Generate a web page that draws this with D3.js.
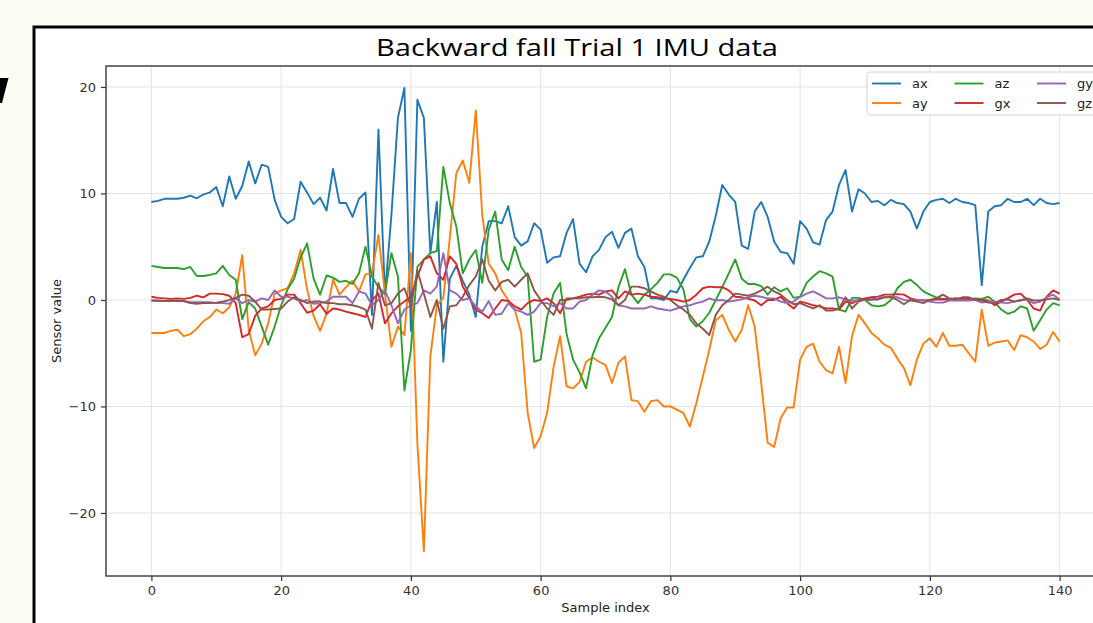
<!DOCTYPE html>
<html>
<head>
<meta charset="utf-8">
<script src="https://cdn.jsdelivr.net/npm/d3@7/dist/d3.min.js"></script>
<style>
  html, body { margin: 0; padding: 0; background: #fdfdf4; overflow: hidden; }
  svg { display: block; }
</style>
</head>
<body>
<div class="ChartSection"></div>
<script>
// sample values, index 0..140
const ax = [9.2,9.3,9.5,9.5,9.5,9.6,9.8,9.55,9.9,10.1,10.6,8.8,11.6,9.5,10.7,13.0,10.95,12.7,12.5,9.4,
  7.8,7.2,7.6,11.1,10.1,9.0,9.6,8.4,12.3,9.1,9.1,7.8,9.5,10.1,-1.4,16.0,0.5,8.0,17.1,19.9,
  -2.9,18.8,17.1,4.4,9.2,-5.8,2.0,3.2,1.8,0.5,-1.6,5.0,7.4,7.4,7.2,8.8,5.9,5.1,5.5,7.2,
  6.6,3.5,4.0,4.1,6.3,7.6,3.4,2.6,4.1,4.7,5.9,6.4,4.9,6.3,6.7,4.1,3.1,0.15,0.15,0.0,
  0.85,0.7,1.9,3.0,4.0,4.1,5.5,7.9,10.8,9.9,9.2,5.1,4.8,8.3,9.2,7.8,5.5,4.5,4.4,3.4,
  7.4,6.7,5.4,5.2,7.5,8.3,10.8,12.2,8.3,10.4,10.0,9.2,9.3,8.9,9.4,9.1,9.0,8.3,6.7,8.3,
  9.2,9.4,9.5,9.1,9.5,9.2,9.1,8.9,1.4,8.3,8.8,8.9,9.5,9.2,9.2,9.5,8.9,9.5,9.1,9.0,9.1];
const ay = [-3.1,-3.1,-3.1,-2.9,-2.8,-3.4,-3.2,-2.7,-2.0,-1.6,-0.9,-1.25,-0.7,0.6,4.2,-2.8,-5.2,-4.1,-2.2,0.6,
  0.9,1.1,2.5,4.7,1.0,-1.5,-2.9,-1.3,1.9,0.5,1.2,1.8,0.8,2.4,2.5,6.1,0.6,-4.4,-2.5,-3.3,
  4.4,-13.5,-23.6,-5.3,-0.5,0.2,5.8,11.9,13.1,11.0,17.8,8.0,3.4,2.5,0.9,0.0,-0.9,-3.1,-10.6,-13.9,
  -12.8,-10.6,-6.3,-3.4,-8.1,-8.3,-7.7,-5.8,-5.4,-5.8,-6.1,-7.8,-5.9,-5.3,-9.4,-9.5,-10.5,-9.5,-9.4,-10.0,
  -10.0,-10.3,-10.6,-11.9,-9.7,-7.2,-4.7,-1.9,-1.4,-2.8,-3.9,-2.8,-0.5,-2.5,-7.8,-13.4,-13.8,-11.1,-10.1,-10.1,
  -5.6,-4.4,-4.1,-5.8,-6.6,-6.9,-4.4,-7.8,-3.4,-1.4,-2.2,-3.1,-3.6,-4.2,-4.5,-5.5,-6.4,-8.0,-5.6,-4.1,
  -3.6,-4.4,-3.1,-4.3,-4.3,-4.2,-5.0,-5.8,-0.9,-4.3,-4.0,-3.9,-3.8,-4.7,-3.3,-3.5,-3.9,-4.6,-4.2,-3.0,-3.9];
const az = [3.2,3.1,3.0,3.0,3.0,2.9,3.1,2.25,2.25,2.35,2.5,3.2,2.35,1.9,-1.8,-0.2,-0.8,-2.5,-4.2,-2.5,
  -0.5,1.0,2.0,4.0,5.3,2.0,0.5,2.3,2.1,1.7,1.8,1.5,2.5,5.0,2.2,1.2,0.6,4.4,2.2,-8.5,
  -4.7,3.1,3.8,4.4,4.6,12.5,9.1,6.9,2.5,3.8,4.7,1.6,6.6,8.3,3.8,2.8,5.0,3.1,2.2,-5.8,
  -5.6,-1.6,0.6,1.6,-3.2,-5.6,-6.8,-8.3,-5.2,-3.6,-2.6,-1.6,1.2,2.9,0.5,-0.3,0.5,1.0,1.6,2.4,
  2.4,2.1,1.0,-1.8,-2.5,-2.0,-1.2,0.0,1.2,2.5,3.8,2.0,1.5,1.5,1.3,0.5,1.2,0.8,1.1,0.2,
  0.3,1.6,2.2,2.7,2.5,2.2,-0.9,-1.1,0.2,0.2,0.0,-0.5,-0.6,-0.5,0.0,1.1,1.7,1.9,1.4,0.8,
  0.5,0.25,0.1,0.1,0.15,0.1,0.1,0.15,0.1,0.3,-0.2,-0.9,-1.3,-1.1,-0.6,-0.8,-2.9,-1.9,-0.9,-0.3,-0.5];
const gx = [0.3,0.2,0.15,0.1,0.15,0.1,0.2,0.4,0.25,0.6,0.6,0.55,0.4,-0.3,-3.5,-3.2,-1.5,-0.8,-0.6,0.0,
  0.1,0.5,0.5,-0.3,-1.2,-1.0,-0.4,-1.3,-0.8,-0.9,-1.1,-1.25,-1.4,-1.6,0.0,0.6,-2.2,-1.25,-0.6,-0.15,
  0.3,2.2,3.8,4.1,2.5,1.9,4.1,3.4,1.25,0.15,-0.9,-1.25,-1.7,-0.8,0.0,-0.1,-0.6,-0.9,-0.3,0.0,
  -0.1,0.15,-0.3,-1.25,0.15,0.15,0.3,0.5,0.6,0.5,0.8,0.9,0.15,0.8,0.5,0.6,0.5,0.3,0.25,0.15,
  0.1,0.0,-0.15,0.0,0.5,1.1,1.25,1.2,1.2,0.9,0.3,0.25,0.1,-0.05,-0.5,0.0,0.0,0.3,-0.3,-0.8,
  -0.15,-0.3,-0.5,-0.6,-0.8,-0.8,-0.9,-0.15,-0.3,0.0,0.15,0.25,0.3,0.5,0.5,0.55,0.5,0.15,0.0,-0.05,
  0.0,0.05,0.05,0.05,0.15,0.05,0.1,0.05,0.0,-0.05,-0.5,-0.15,0.15,0.5,0.6,0.0,-0.8,-1.0,0.3,0.9,0.6];
const gy = [-0.05,-0.1,-0.1,-0.1,-0.05,-0.1,-0.2,-0.2,-0.2,-0.2,-0.3,-0.3,-0.35,0.15,-0.3,0.0,-0.15,0.15,0.0,0.9,
  0.3,0.3,0.15,-0.15,0.0,-0.35,-0.3,-0.15,0.3,0.3,0.3,-0.3,0.8,0.6,-0.5,0.0,0.9,-0.5,-2.2,-0.9,
  -0.5,-0.3,0.9,0.6,1.25,4.4,0.9,0.6,0.0,0.15,-0.6,-1.1,-0.1,-1.4,-1.3,-0.3,-0.9,-1.1,-1.4,-1.1,
  -0.3,-0.3,-0.6,-0.3,-0.8,-0.8,-0.15,0.0,0.5,0.9,0.8,0.3,-0.5,-0.6,-0.8,-0.8,-0.8,-0.6,-0.8,-0.9,
  -1.0,-0.8,-0.6,-0.5,-0.3,-0.15,0.15,-0.05,0.0,-0.15,-0.05,0.05,0.25,0.4,0.3,0.15,0.15,-0.15,-0.3,-0.15,
  0.3,0.6,0.8,0.5,0.15,0.15,0.25,0.05,-0.05,-0.05,0.0,0.05,0.25,0.25,0.3,0.25,0.0,-0.05,-0.05,0.0,
  -0.15,-0.25,-0.25,-0.05,-0.05,-0.05,-0.05,0.0,-0.25,-0.15,-0.15,-0.25,-0.3,-0.15,0.0,0.05,-0.3,-0.15,0.25,0.5,0.05];
const gz = [-0.05,-0.05,-0.1,-0.05,-0.1,-0.1,-0.3,-0.35,-0.3,-0.3,-0.25,-0.15,0.0,0.2,0.5,0.4,-0.15,-0.9,-0.9,-0.85,
  -0.8,-0.15,0.25,0.0,-0.3,-0.15,-0.15,-0.3,-0.3,-0.4,-0.4,-0.5,-0.65,-0.9,-2.7,1.6,-0.5,-0.3,0.6,1.1,
  -0.6,2.8,0.6,-1.6,0.0,-2.7,-0.6,-0.5,0.3,1.4,2.2,3.8,1.8,0.9,1.7,1.9,1.25,1.9,2.5,0.9,
  0.0,-0.8,-1.4,0.0,0.0,0.15,0.15,0.25,0.25,0.3,0.25,0.05,-0.5,0.0,1.25,1.25,1.1,0.8,0.5,0.3,
  0.0,-0.5,-0.9,-1.4,-2.2,-2.7,-3.3,-1.4,-0.5,0.0,0.6,0.5,0.4,0.6,0.9,1.25,0.8,0.5,0.0,-0.4,
  -0.3,-0.55,-0.8,-0.5,-1.0,-1.0,-0.8,0.25,-0.8,-0.15,0.05,0.05,0.05,0.25,0.25,0.0,-0.4,0.0,-0.15,-0.3,
  0.0,0.15,0.5,0.15,0.05,0.25,0.25,0.0,-0.05,-0.25,-0.3,0.0,0.05,-0.15,-0.05,0.15,-0.05,-0.05,0.05,0.15,0.0];

const seriesNames = ["ax", "ay", "az", "gx", "gy", "gz"];
const seriesValues = [ax, ay, az, gx, gy, gz];
const seriesColors = ["#1f77b4", "#ff7f0e", "#2ca02c", "#d62728", "#9467bd", "#8c564b"];
const xTicks = [0, 20, 40, 60, 80, 100, 120, 140];
const yTicks = [-20, -10, 0, 10, 20];

function drawChart() {
  const W = 1093, H = 623;
  const svg = d3.select(".ChartSection")
    .append("svg")
    .attr("width", W)
    .attr("height", H);

  // slide bits round the picture
  svg.append("polygon")
    .attr("points", "0,78 8.5,78 2,103 0,103")
    .attr("fill", "#000");

  svg.append("rect")
    .attr("x", 34)
    .attr("y", 27)
    .attr("width", W)
    .attr("height", H)
    .attr("fill", "#fff")
    .attr("stroke", "#000")
    .attr("stroke-width", 3);

  svg.append("text")
    .attr("x", 577)
    .attr("y", 56)
    .attr("text-anchor", "middle")
    .attr("font-family", "'Open Sans', Lato, sans-serif")
    .attr("font-size", "23px")
    .attr("textLength", 402)
    .attr("lengthAdjust", "spacingAndGlyphs")
    .attr("fill", "#000")
    .text("Backward fall Trial 1 IMU data");

  const left = 106, top = 66, right = 1105, bottom = 576;

  const xScale = d3.scaleLinear().domain([-7, 147]).range([left, right]);
  const yScale = d3.scaleLinear().domain([-25.92, 21.97]).range([bottom, top]);

  const font = "'DejaVu Sans', sans-serif";

  // grid
  svg.append("g").selectAll("line")
    .data(xTicks).enter().append("line")
    .attr("x1", d => xScale(d)).attr("x2", d => xScale(d))
    .attr("y1", top).attr("y2", bottom)
    .attr("stroke", "#e3e3e3").attr("stroke-width", 1);
  svg.append("g").selectAll("line")
    .data(yTicks).enter().append("line")
    .attr("x1", left).attr("x2", right)
    .attr("y1", d => yScale(d)).attr("y2", d => yScale(d))
    .attr("stroke", "#e3e3e3").attr("stroke-width", 1);

  svg.append("defs").append("clipPath")
    .attr("id", "plot-clip")
    .append("rect")
    .attr("x", left).attr("y", top)
    .attr("width", right - left).attr("height", bottom - top);

  const plotArea = svg.append("g").attr("clip-path", "url(#plot-clip)");

  const line = d3.line()
    .x((d, i) => xScale(i))
    .y(d => yScale(d));

  seriesValues.forEach((vals, k) => {
    plotArea.append("path")
      .datum(vals)
      .attr("d", line)
      .attr("fill", "none")
      .attr("stroke", seriesColors[k])
      .attr("stroke-width", 1.9)
      .attr("stroke-linejoin", "round");
  });

  // axes
  const fmt = d => d < 0 ? "\u2212" + Math.abs(d) : String(d);
  const xAxis = d3.axisBottom(xScale).tickValues(xTicks).tickFormat(fmt).tickSize(5).tickPadding(5);
  const yAxis = d3.axisLeft(yScale).tickValues(yTicks).tickFormat(fmt).tickSize(5).tickPadding(5);

  const gx_ = svg.append("g")
    .attr("transform", `translate(0, ${bottom})`)
    .call(xAxis);
  const gy_ = svg.append("g")
    .attr("transform", `translate(${left}, 0)`)
    .call(yAxis);
  [gx_, gy_].forEach(g => {
    g.select(".domain").remove();
    g.selectAll("line").attr("stroke", "#333").attr("stroke-width", 1.2);
    g.selectAll("text").attr("fill", "#333").attr("font-size", "13px").attr("font-family", font);
  });

  // frame
  svg.append("rect")
    .attr("x", left).attr("y", top)
    .attr("width", right - left).attr("height", bottom - top)
    .attr("fill", "none")
    .attr("stroke", "#444")
    .attr("stroke-width", 1.5);

  svg.append("text")
    .attr("x", (left + right) / 2)
    .attr("y", 612)
    .attr("text-anchor", "middle")
    .attr("font-family", font)
    .attr("font-size", "13px")
    .attr("fill", "#222")
    .text("Sample index");

  svg.append("text")
    .attr("transform", "rotate(-90)")
    .attr("x", -(top + bottom) / 2)
    .attr("y", 61)
    .attr("text-anchor", "middle")
    .attr("font-family", font)
    .attr("font-size", "13px")
    .attr("fill", "#222")
    .text("Sensor value");

  // legend, 3 columns x 2 rows
  const legend = svg.append("g").attr("transform", "translate(867, 72)");
  legend.append("rect")
    .attr("width", 240).attr("height", 43)
    .attr("rx", 3)
    .attr("fill", "#fff").attr("fill-opacity", 0.85)
    .attr("stroke", "#d5d5d5");
  seriesNames.forEach((name, k) => {
    const col = Math.floor(k / 2), row = k % 2;
    const g = legend.append("g")
      .attr("transform", `translate(${5 + col * 82.5}, ${11.5 + row * 19.5})`);
    g.append("line")
      .attr("x1", 0).attr("x2", 29)
      .attr("stroke", seriesColors[k]).attr("stroke-width", 1.9);
    g.append("text")
      .attr("x", 40).attr("y", 4.5)
      .attr("font-family", font)
      .attr("font-size", "13px")
      .attr("fill", "#222")
      .text(name);
  });
}

drawChart();
</script>
</body>
</html>
